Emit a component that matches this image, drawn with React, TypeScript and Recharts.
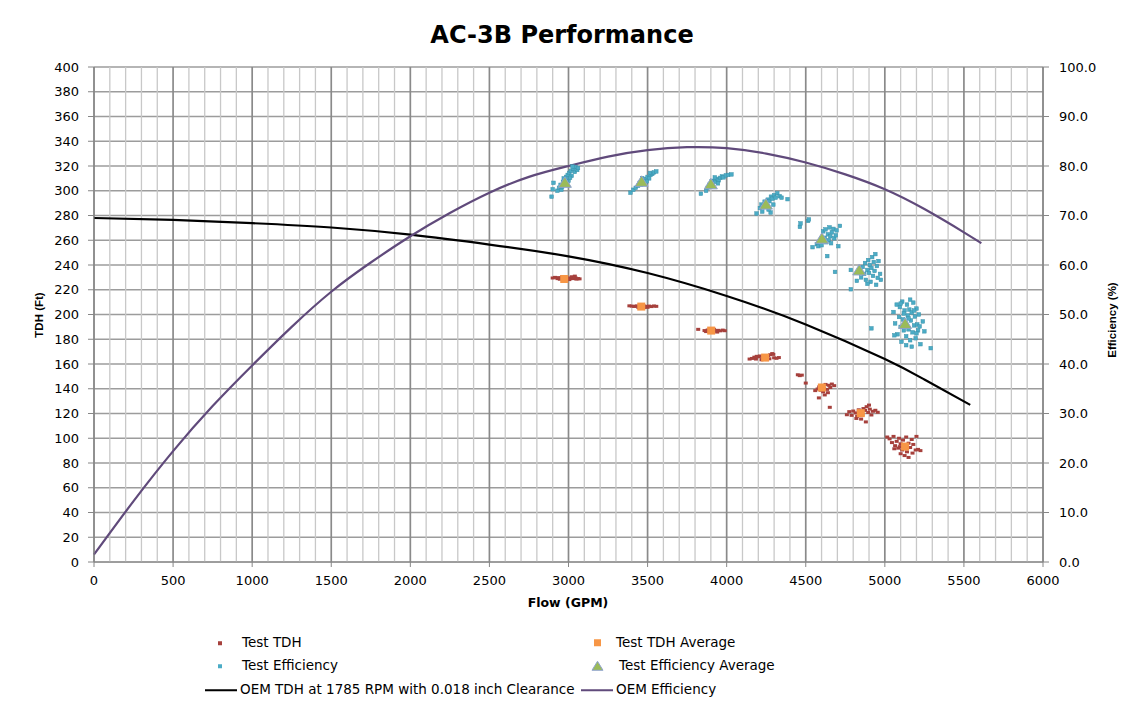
import React from "react";
import {
  ComposedChart,
  Scatter,
  Line,
  XAxis,
  YAxis,
  CartesianGrid,
} from "recharts";

// ---- Axis ticks ----
// Flow axis carries a tick every 100 GPM (for the grid); only every 500 GPM is labelled.
const flowTicks = Array.from({ length: 61 }, (_, i) => i * 100);
const flowLabelStep = 500;
const tdhTicks = Array.from({ length: 21 }, (_, i) => i * 20);
const effTicks = [0, 10, 20, 30, 40, 50, 60, 70, 80, 90, 100];

// ---- OEM curves: [flow GPM, value] ----
const oemTdh: [number, number][] = [
  [0, 278], [500, 276.4], [1000, 273.8], [1500, 270.3], [2000, 264.5], [2500, 256.5],
  [3000, 247], [3500, 233.5], [4000, 215], [4500, 192], [5000, 164], [5250, 147.5], [5540, 127],
];
const oemEff: [number, number][] = [
  [0, 1.5], [250, 12.3], [500, 22.4], [750, 31.5], [1000, 39.7], [1250, 47.5], [1500, 54.6],
  [1750, 60.5], [2000, 65.8], [2250, 70.5], [2500, 74.6], [2750, 77.8], [3000, 80.0],
  [3250, 81.9], [3500, 83.2], [3750, 83.8], [4000, 83.6], [4250, 82.5], [4500, 80.7],
  [4750, 78.3], [5000, 75.3], [5250, 71.3], [5500, 66.6], [5610, 64.4],
];

// ---- Test averages ----
const tdhAverage: [number, number][] = [
  [2973, 228.7], [3460, 206.4], [3902, 187.0], [4243, 165.2], [4602, 141.0], [4848, 120.3], [5128, 93.3],
];
const effAverage: [number, number][] = [
  [2977, 76.6], [3462, 76.8], [3900, 76.3], [4248, 72.2], [4602, 65.3], [4838, 58.9], [5128, 48.1],
];

// ---- Test TDH readings ----
const testTdh: [number, number][] = [
  // ~2975 GPM
  [2900, 229.5], [2915, 230], [2930, 229], [2945, 228.5], [2955, 229.5], [2965, 228], [2975, 229],
  [2985, 230], [2990, 228.5], [3000, 229.5], [3010, 229], [3020, 230.5], [3030, 229], [3045, 229.5],
  [3060, 229], [3070, 228.8], [2960, 230.5], [2940, 229.8], [3005, 228.2], [3050, 228.6], [3040, 231],
  // ~3460 GPM
  [3385, 207], [3400, 206.8], [3415, 206.5], [3430, 207], [3440, 206], [3450, 206.5], [3465, 206.2],
  [3475, 207], [3490, 206.6], [3500, 205.8], [3510, 206.8], [3525, 206.4], [3540, 206.9], [3555, 206.6],
  [3445, 205.5], [3480, 205.6],
  // ~3900 GPM
  [3820, 188], [3860, 187], [3870, 186.2], [3880, 187.5], [3890, 186.8], [3900, 187.5], [3910, 186],
  [3920, 187.8], [3930, 186.6], [3945, 187.2], [3960, 186.8], [3975, 187.4], [3988, 186.9],
  [3915, 188.5], [3940, 185.8],
  // ~4245 GPM
  [4145, 164], [4160, 164.5], [4175, 165.5], [4185, 164], [4200, 165.8], [4210, 166.5], [4225, 164.5],
  [4235, 166], [4250, 165], [4262, 166.8], [4275, 167.5], [4288, 168.4], [4295, 167.8], [4300, 165],
  [4315, 164.6], [4330, 165.2], [4220, 163.4], [4255, 163.6], [4270, 164.2], [4190, 166.2],
  // ~4600 GPM
  [4450, 151.3], [4462, 150.6], [4475, 151], [4500, 144.6], [4560, 138.5], [4575, 139.8], [4585, 141.5],
  [4595, 138.8], [4605, 142.5], [4615, 140.2], [4625, 143.5], [4635, 139.5], [4645, 142.8], [4655, 141],
  [4665, 143.8], [4680, 142.5], [4610, 137.5], [4640, 136.8], [4583, 132.6], [4652, 125], [4620, 135],
  // ~4850 GPM
  [4760, 119], [4775, 121.5], [4790, 118.5], [4800, 122], [4815, 120.5], [4825, 117.8], [4835, 123],
  [4845, 121], [4858, 119.2], [4865, 124], [4875, 122.5], [4885, 125.5], [4895, 120.8], [4905, 123.5],
  [4915, 118.8], [4925, 121.8], [4940, 122.6], [4955, 121], [4850, 115.5], [4880, 113.2], [4820, 116],
  [4900, 126.8],
  // ~5130 GPM
  [5015, 101], [5030, 99.5], [5045, 96.5], [5055, 101.5], [5065, 94], [5075, 97.5], [5085, 92],
  [5090, 100], [5100, 95.5], [5110, 90.5], [5115, 98.5], [5125, 94.5], [5135, 101], [5140, 89],
  [5150, 96], [5160, 92.5], [5170, 99], [5180, 95], [5195, 90.5], [5210, 91], [5225, 90], [5100, 87.5],
  [5125, 86], [5150, 84.5], [5175, 88], [5200, 101.5], [5060, 91.5], [5130, 91.8], [5095, 93.2],
];

// ---- Test efficiency readings ----
const testEff: [number, number][] = [
  // ~2975 GPM
  [2893, 73.8], [2900, 75.3], [2905, 76.6], [2930, 75], [2940, 75.6], [2950, 76.2], [2955, 75.2],
  [2965, 76.8], [2970, 77.5], [2980, 76.4], [2985, 77.8], [2995, 78.2], [3000, 77], [3005, 78.6],
  [3015, 79], [3020, 78], [3030, 79.4], [3040, 78.8], [3045, 79.8], [3055, 79.2], [3060, 79.6],
  [2960, 75.8], [2990, 76.9], [3010, 77.6], [3025, 79.9],
  // ~3460 GPM
  [3392, 74.6], [3410, 75.2], [3425, 75.6], [3440, 76], [3450, 76.6], [3460, 76.2], [3470, 77],
  [3480, 76.8], [3490, 77.4], [3500, 77.8], [3510, 77.5], [3520, 78.2], [3530, 78.4], [3540, 78.7],
  [3555, 78.9], [3465, 77.5], [3495, 76.9], [3515, 78.6],
  // ~3900 GPM
  [3837, 74.4], [3870, 75], [3880, 75.6], [3890, 76.2], [3900, 75.8], [3910, 76.6], [3920, 77],
  [3930, 76.8], [3940, 77.4], [3950, 77.1], [3960, 77.6], [3970, 77.9], [3980, 77.7], [3995, 78.1],
  [4010, 78.2], [4030, 78.3], [3905, 76.9], [3945, 76.5], [3925, 77.7],
  // ~4250 GPM
  [4189, 70.4], [4210, 71.5], [4220, 72.2], [4230, 71.8], [4240, 72.8], [4250, 72.5], [4260, 73.2],
  [4270, 72.9], [4280, 73.8], [4290, 73.4], [4300, 74.1], [4310, 73.6], [4320, 74.5], [4335, 73.9],
  [4347, 73.6], [4385, 73.3], [4278, 70.6], [4265, 71.2], [4225, 70.8], [4295, 72.2],
  // ~4600 GPM
  [4463, 67.7], [4467, 68.4], [4515, 68.9], [4520, 69.2], [4543, 63.6], [4570, 64.2], [4580, 63.8],
  [4610, 66.8], [4620, 65.5], [4625, 67.2], [4630, 64.6], [4640, 66.2], [4645, 65], [4650, 67.6],
  [4655, 65.8], [4660, 64.4], [4665, 66.6], [4675, 67.3], [4680, 65.4], [4690, 66], [4695, 67],
  [4716, 67.9], [4706, 63.8], [4636, 61.8], [4600, 64],
  // ~4840 GPM
  [4685, 58.6], [4785, 59], [4785, 55.1], [4823, 56.8], [4850, 57.5], [4860, 59.6], [4870, 58.2],
  [4875, 60.4], [4880, 57], [4890, 59], [4895, 61], [4900, 58.4], [4905, 60], [4910, 56.6],
  [4915, 59.4], [4920, 61.6], [4925, 57.8], [4930, 60.6], [4935, 58.8], [4940, 62.2], [4950, 59.8],
  [4955, 57.4], [4960, 60.8], [4970, 58.2], [4975, 57], [4890, 56.2], [4945, 56],
  // ~5130 GPM
  [4915, 47.2], [5055, 50.5], [5065, 48.2], [5075, 52], [5080, 46], [5090, 49.5], [5095, 51.5],
  [5100, 47.5], [5105, 44.5], [5110, 52.6], [5115, 49], [5120, 46.8], [5125, 50.8], [5130, 48.2],
  [5135, 45.6], [5140, 52], [5145, 49.8], [5150, 47], [5155, 51], [5160, 44.8], [5165, 48.8],
  [5170, 50.4], [5175, 46.4], [5180, 52.4], [5185, 47.8], [5190, 49.6], [5195, 45.2], [5200, 51.2],
  [5205, 48], [5210, 46.8], [5215, 50], [5220, 47.6], [5225, 44], [5240, 48.6], [5290, 43.2],
  [5135, 43.8], [5170, 43.5], [5100, 52.2], [5160, 53], [5060, 45.8], [5120, 50.2], [5150, 49.2],
  [5185, 50.8], [5200, 46.2], [5250, 46.6],
];

const toRows = (pts: [number, number][]) => pts.map(([x, y]) => ({ x, y }));

const COLORS = {
  tdh: "#A6403C",
  tdhAvg: "#F79646",
  eff: "#4BACC6",
  effEdge: "#3A91AA",
  effAvg: "#9BBB59",
  effAvgEdge: "#8FA2CF",
  oemTdh: "#000000",
  oemEff: "#604A7B",
  axis: "#868686",
  gridMajor: "#8a8a8a",
  gridMinor: "#c8c8c8",
  gridH: "#9c9c9c",
};

const FONT = "'DejaVu Sans', sans-serif";
const X_TICK_SIZE = 5;
const X_TICK_MARGIN = 9;

const TdhMarker = (p: any) =>
  p.cx == null ? null : (
    <rect x={p.cx - 2} y={p.cy - 1.5} width={4} height={3} fill={COLORS.tdh} />
  );
const TdhAvgMarker = (p: any) =>
  p.cx == null ? null : (
    <rect x={p.cx - 4} y={p.cy - 4} width={8} height={8} fill={COLORS.tdhAvg} />
  );
const EffMarker = (p: any) =>
  p.cx == null ? null : (
    <rect
      x={p.cx - 1.8}
      y={p.cy - 1.8}
      width={3.6}
      height={3.6}
      fill={COLORS.eff}
      stroke={COLORS.effEdge}
      strokeWidth={0.5}
    />
  );
const EffAvgMarker = (p: any) =>
  p.cx == null ? null : (
    <polygon
      points={`${p.cx},${p.cy - 6} ${p.cx + 6.5},${p.cy + 4.5} ${p.cx - 6.5},${p.cy + 4.5}`}
      fill={COLORS.effAvg}
      stroke={COLORS.effAvgEdge}
      strokeWidth={1}
    />
  );

// Flow-axis tick: mark and label only every 500 GPM
const FlowTick = (p: any) => {
  const v = p.payload?.value;
  if (v == null || v % flowLabelStep !== 0) return <g />;
  const axisY = p.y - X_TICK_SIZE - X_TICK_MARGIN;
  return (
    <g>
      <line x1={p.x} x2={p.x} y1={axisY} y2={axisY + X_TICK_SIZE} stroke={COLORS.axis} />
      <text x={p.x} y={p.y} dy="0.71em" textAnchor="middle" fontFamily={FONT} fontSize={13} fill="#000">
        {v}
      </text>
    </g>
  );
};

// Vertical grid every 100 GPM, darker every 500 GPM
const VerticalGridLine = (p: any) => {
  const major = flowTicks[p.index] % flowLabelStep === 0;
  return (
    <line
      key={p.key}
      x1={p.x1}
      x2={p.x2}
      y1={p.y1}
      y2={p.y2}
      stroke={major ? COLORS.gridMajor : COLORS.gridMinor}
      strokeWidth={major ? 1.7 : 1.3}
    />
  );
};
const HorizontalGridLine = (p: any) => (
  <line key={p.key} x1={p.x1} x2={p.x2} y1={p.y1} y2={p.y2} stroke={COLORS.gridH} strokeWidth={1.4} />
);

const tickStyle = { fontFamily: FONT, fontSize: 13, fill: "#000" };

const abs = (style: React.CSSProperties): React.CSSProperties => ({
  position: "absolute",
  whiteSpace: "nowrap",
  fontFamily: FONT,
  color: "#000",
  lineHeight: 1,
  ...style,
});

function LegendRow({ y, x, marker, label }: { y: number; x: number; marker: React.ReactNode; label: string }) {
  return (
    <div style={abs({ left: x, top: y, transform: "translateY(-50%)", display: "flex", alignItems: "center", fontSize: 13.5 })}>
      {marker}
      <span>{label}</span>
    </div>
  );
}

export default function App() {
  return (
    <div style={{ position: "relative", width: 1127, height: 700, background: "#fff" }}>
      <div
        style={{
          position: "absolute",
          left: -1,
          top: -1,
          width: 1127,
          height: 710,
          border: "1px solid #d9d9d9",
          boxSizing: "border-box",
          pointerEvents: "none",
        }}
      />
      <ComposedChart
        width={1127}
        height={700}
        margin={{ top: 59, right: 32, left: 36, bottom: 116 }}
      >
        <XAxis
          dataKey="x"
          type="number"
          domain={[0, 6000]}
          ticks={flowTicks}
          interval={0}
          height={30}
          tick={FlowTick}
          tickLine={false}
          tickSize={X_TICK_SIZE}
          tickMargin={X_TICK_MARGIN}
          axisLine={{ stroke: COLORS.axis }}
        />
        <YAxis
          yAxisId="tdh"
          dataKey="y"
          type="number"
          domain={[0, 400]}
          ticks={tdhTicks}
          interval={0}
          width={50}
          tick={tickStyle}
          tickSize={6}
          tickMargin={9}
          axisLine={{ stroke: COLORS.axis }}
          tickLine={{ stroke: COLORS.axis }}
        />
        <YAxis
          yAxisId="eff"
          orientation="right"
          dataKey="y"
          type="number"
          domain={[0, 100]}
          ticks={effTicks}
          interval={0}
          width={60}
          tick={tickStyle}
          tickFormatter={(v: number) => v.toFixed(1)}
          tickSize={6}
          tickMargin={10}
          axisLine={{ stroke: COLORS.axis }}
          tickLine={{ stroke: COLORS.axis }}
        />
        <CartesianGrid
          yAxisId="tdh"
          vertical={VerticalGridLine}
          horizontal={HorizontalGridLine}
          stroke={COLORS.gridH}
        />

        <Scatter
          name="Test TDH"
          yAxisId="tdh"
          data={toRows(testTdh)}
          dataKey="y"
          shape={TdhMarker}
          isAnimationActive={false}
        />
        <Scatter
          name="Test Efficiency"
          yAxisId="eff"
          data={toRows(testEff)}
          dataKey="y"
          shape={EffMarker}
          isAnimationActive={false}
        />
        <Scatter
          name="Test TDH Average"
          yAxisId="tdh"
          data={toRows(tdhAverage)}
          dataKey="y"
          shape={TdhAvgMarker}
          isAnimationActive={false}
        />
        <Scatter
          name="Test Efficiency Average"
          yAxisId="eff"
          data={toRows(effAverage)}
          dataKey="y"
          shape={EffAvgMarker}
          isAnimationActive={false}
        />
        <Line
          name="OEM TDH at 1785 RPM with 0.018 inch Clearance"
          yAxisId="tdh"
          data={toRows(oemTdh)}
          dataKey="y"
          type="natural"
          stroke={COLORS.oemTdh}
          strokeWidth={2.2}
          dot={false}
          activeDot={false}
          isAnimationActive={false}
        />
        <Line
          name="OEM Efficiency"
          yAxisId="eff"
          data={toRows(oemEff)}
          dataKey="y"
          type="natural"
          stroke={COLORS.oemEff}
          strokeWidth={2.2}
          dot={false}
          activeDot={false}
          isAnimationActive={false}
        />
      </ComposedChart>

      {/* Title and axis titles */}
      <div style={abs({ left: 554, top: 27, transform: "translate(-50%,-50%)", fontSize: 24, fontWeight: "bold" })}>
        AC-3B Performance
      </div>
      <div style={abs({ left: 32, top: 307, transform: "translate(-50%,-50%) rotate(-90deg)", fontSize: 11.5, fontWeight: "bold", fontFamily: "'Liberation Sans', Arial, sans-serif" })}>
        TDH (Ft)
      </div>
      <div style={abs({ left: 1105, top: 312, transform: "translate(-50%,-50%) rotate(-90deg)", fontSize: 11.5, fontWeight: "bold", fontFamily: "'Liberation Sans', Arial, sans-serif" })}>
        Efficiency (%)
      </div>
      <div style={abs({ left: 560, top: 595, transform: "translate(-50%,-50%)", fontSize: 12.5, fontWeight: "bold" })}>
        Flow (GPM)
      </div>

      {/* Legend */}
      <LegendRow
        x={208}
        y={635}
        label="Test TDH"
        marker={<span style={{ display: "inline-block", width: 4, height: 4, background: COLORS.tdh, margin: "0 20px 0 2px" }} />}
      />
      <LegendRow
        x={584}
        y={635}
        label="Test TDH Average"
        marker={<span style={{ display: "inline-block", width: 7, height: 7, background: COLORS.tdhAvg, margin: "0 15px 0 2px" }} />}
      />
      <LegendRow
        x={208}
        y={658}
        label="Test Efficiency"
        marker={<span style={{ display: "inline-block", width: 4, height: 4, background: COLORS.eff, margin: "0 20px 0 2px" }} />}
      />
      <LegendRow
        x={583}
        y={658}
        label="Test Efficiency Average"
        marker={
          <svg width={13} height={11} style={{ marginRight: 15 }}>
            <polygon points="6.5,1 12,10 1,10" fill={COLORS.effAvg} stroke={COLORS.effAvgEdge} strokeWidth={1} />
          </svg>
        }
      />
      <LegendRow
        x={197}
        y={682}
        label="OEM TDH at 1785 RPM with 0.018 inch Clearance"
        marker={<span style={{ display: "inline-block", width: 32, height: 2, background: COLORS.oemTdh, marginRight: 3 }} />}
      />
      <LegendRow
        x={573}
        y={682}
        label="OEM Efficiency"
        marker={<span style={{ display: "inline-block", width: 32, height: 2, background: COLORS.oemEff, marginRight: 3 }} />}
      />
    </div>
  );
}
